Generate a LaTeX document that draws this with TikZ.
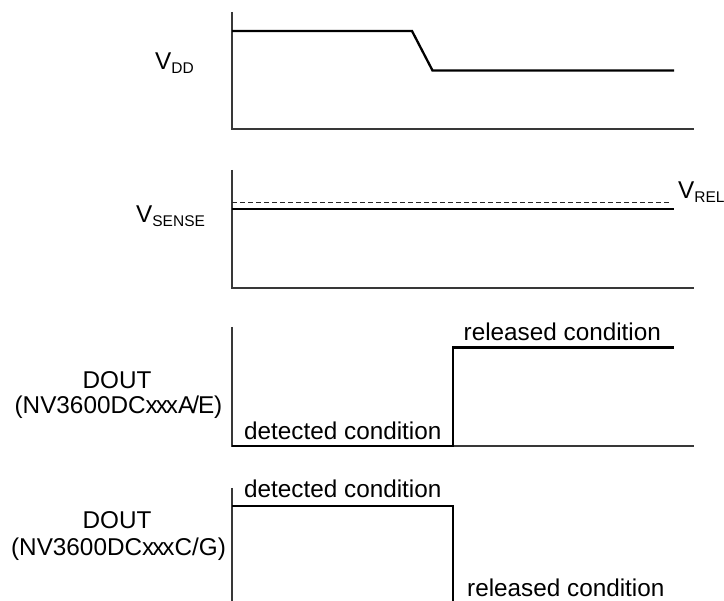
\documentclass[tikz,border=0pt]{standalone}
\usepackage{fontspec}
\setmainfont{Liberation Sans}
\newcommand{\sigsub}[1]{\raisebox{-3.8pt}{\fontsize{15.5}{15.5}\selectfont #1}}
% tightly set "xxx" placeholder in part numbers
\newcommand{\xxxpart}{x\kern-2pt x\kern-2pt x}
\begin{document}
\begin{tikzpicture}[x=1pt,y=-1pt,
  axisline/.style={draw=black!78, line width=1.3pt},
  sigline/.style={draw=black, line width=2.3pt, line join=miter},
  refline/.style={draw=black!85, line width=1.1pt, dash pattern=on 5pt off 3pt},
  lbl/.style={inner sep=0pt, font=\fontsize{24.3}{28}\selectfont},
]
\useasboundingbox (0,0) rectangle (724,601);

% ---- V_DD panel ----
\coordinate (a1top) at (232,12);
\coordinate (a1org) at (232,129);
\coordinate (a1end) at (694,129);
\draw[axisline] (a1top) -- (a1org) -- (a1end);
\coordinate (vdd0) at (232,31);
\coordinate (vdd1) at (412,31);
\coordinate (vdd2) at (432.5,70.5);
\coordinate (vdd3) at (674,70.5);
\draw[sigline] (vdd0) -- (vdd1) -- (vdd2) -- (vdd3);
\node[lbl, anchor=base west] (lvdd) at (155,69.5) {V\sigsub{DD}};

% ---- V_SENSE panel ----
\coordinate (a2top) at (232,170);
\coordinate (a2org) at (232,288);
\coordinate (a2end) at (694,288);
\draw[axisline] (a2top) -- (a2org) -- (a2end);
\coordinate (rel0) at (232,202.5);
\coordinate (rel1) at (670,202.5);
\draw[refline] (rel0) -- (rel1);
\coordinate (sen0) at (232,209);
\coordinate (sen1) at (674,209);
\draw[sigline] (sen0) -- (sen1);
\node[lbl, anchor=base west] (lsense) at (136,222.5) {V\sigsub{SENSE}};
\node[lbl, anchor=base west] (lrel) at (678,198.5) {V\sigsub{REL}};

% ---- DOUT, active-low output ----
\coordinate (a3top) at (232,327);
\coordinate (a3org) at (232,446);
\coordinate (a3end) at (694,446);
\draw[axisline] (a3top) -- (a3org) -- (a3end);
\coordinate (d30) at (232,446);
\coordinate (d31) at (453,446);
\coordinate (d32) at (453,347.5);
\coordinate (d33) at (674,347.5);
\draw[sigline] (d30) -- (d31) -- (d32) -- (d33);
\node[lbl, anchor=base west] (det3) at (244,439.3) {detected condition};
\node[lbl, anchor=base west] (rel3) at (463.5,340.5) {released condition};
\node[lbl, anchor=base] (dout3) at (117,388.3) {DOUT};
\node[lbl, anchor=base] (part3) at (118.5,413.3) {(NV3600DC\xxxpart A\kern-2pt/\kern-1pt E)};

% ---- DOUT, active-high output ----
\coordinate (a4top) at (232,488);
\coordinate (a4org) at (232,601);
\draw[axisline] (a4top) -- (a4org);
\coordinate (d40) at (232,505.7);
\coordinate (d41) at (453,505.7);
\coordinate (d42) at (453,601);
\draw[sigline] (d40) -- (d41) -- (d42);
\node[lbl, anchor=base west] (det4) at (244,497.7) {detected condition};
\node[lbl, anchor=base west] (rel4) at (467,596.5) {released condition};
\node[lbl, anchor=base] (dout4) at (117,528.3) {DOUT};
\node[lbl, anchor=base] (part4) at (118.5,556) {(NV3600DC\xxxpart C/G)};
\end{tikzpicture}
\end{document}
